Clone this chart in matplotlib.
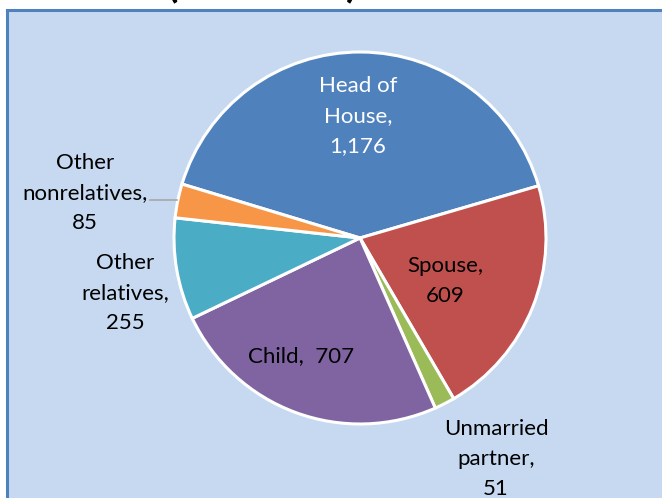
import matplotlib.pyplot as plt
from matplotlib.patches import Rectangle

# ---------------------------
# DATA
# ---------------------------
labels = ["Head of\nHouse,\n1,176", "Spouse,\n609", "Unmarried\npartner,\n51",
          "Child,  707", "Other\nrelatives,\n255", "Other\nnonrelatives,\n85"]
values = [1176, 609, 51, 707, 255, 85]
colors = ["#4F81BD", "#C0504D", "#9BBB59", "#8064A2", "#4BACC6", "#F79646"]
text_colors = ["white", "black", "black", "black", "black", "black"]

# label positions in pixels (x from left, y from top)
label_pos = [(358, 116), (445, 281), (496, 459), (301, 356), (125, 293), (85, 193)]

W, H = 662, 498
CX, CY, R = 360, 238, 186

plt.rcParams["font.family"] = ["Lato", "DejaVu Sans"]

fig = plt.figure(figsize=(W / 100, H / 100), dpi=100)
fig.patch.set_facecolor("white")

# chart panel with border
panel = Rectangle((7 / W, -0.05), 1.05, (H - 10) / H + 0.05, transform=fig.transFigure,
                  facecolor="#C6D9F1", edgecolor="#4F81BD", linewidth=2.2, zorder=-5)
fig.patches.append(panel)

# title sits above the picture; only the bottoms of its parentheses show
for px in (172, 352):
    fig.text(px / W, (H + 4) / H, "(" if px < 300 else ")", fontsize=30,
             fontweight="bold", ha="center", va="baseline")

ax = fig.add_axes([0, 0, 1, 1], zorder=2)
ax.patch.set_visible(False)

total = sum(values)
start = 16.3 + 360 * values[0] / total

ax.pie(values, colors=colors, startangle=start, counterclock=False,
       center=(CX, H - CY), radius=R, frame=True,
       wedgeprops=dict(edgecolor="white", linewidth=2.2))
ax.set_xlim(0, W)
ax.set_ylim(0, H)
ax.set_aspect("equal")
ax.axis("off")

for lab, (x, y), c in zip(labels, label_pos, text_colors):
    ax.text(x, H - y, lab, ha="center", va="center", fontsize=16, color=c, linespacing=1.6)

# leader line for the small slice
ax.plot([150, 177], [H - 200, H - 200], color="#A6A6A6", linewidth=1.2)

fig.savefig("out.png", dpi=100)
